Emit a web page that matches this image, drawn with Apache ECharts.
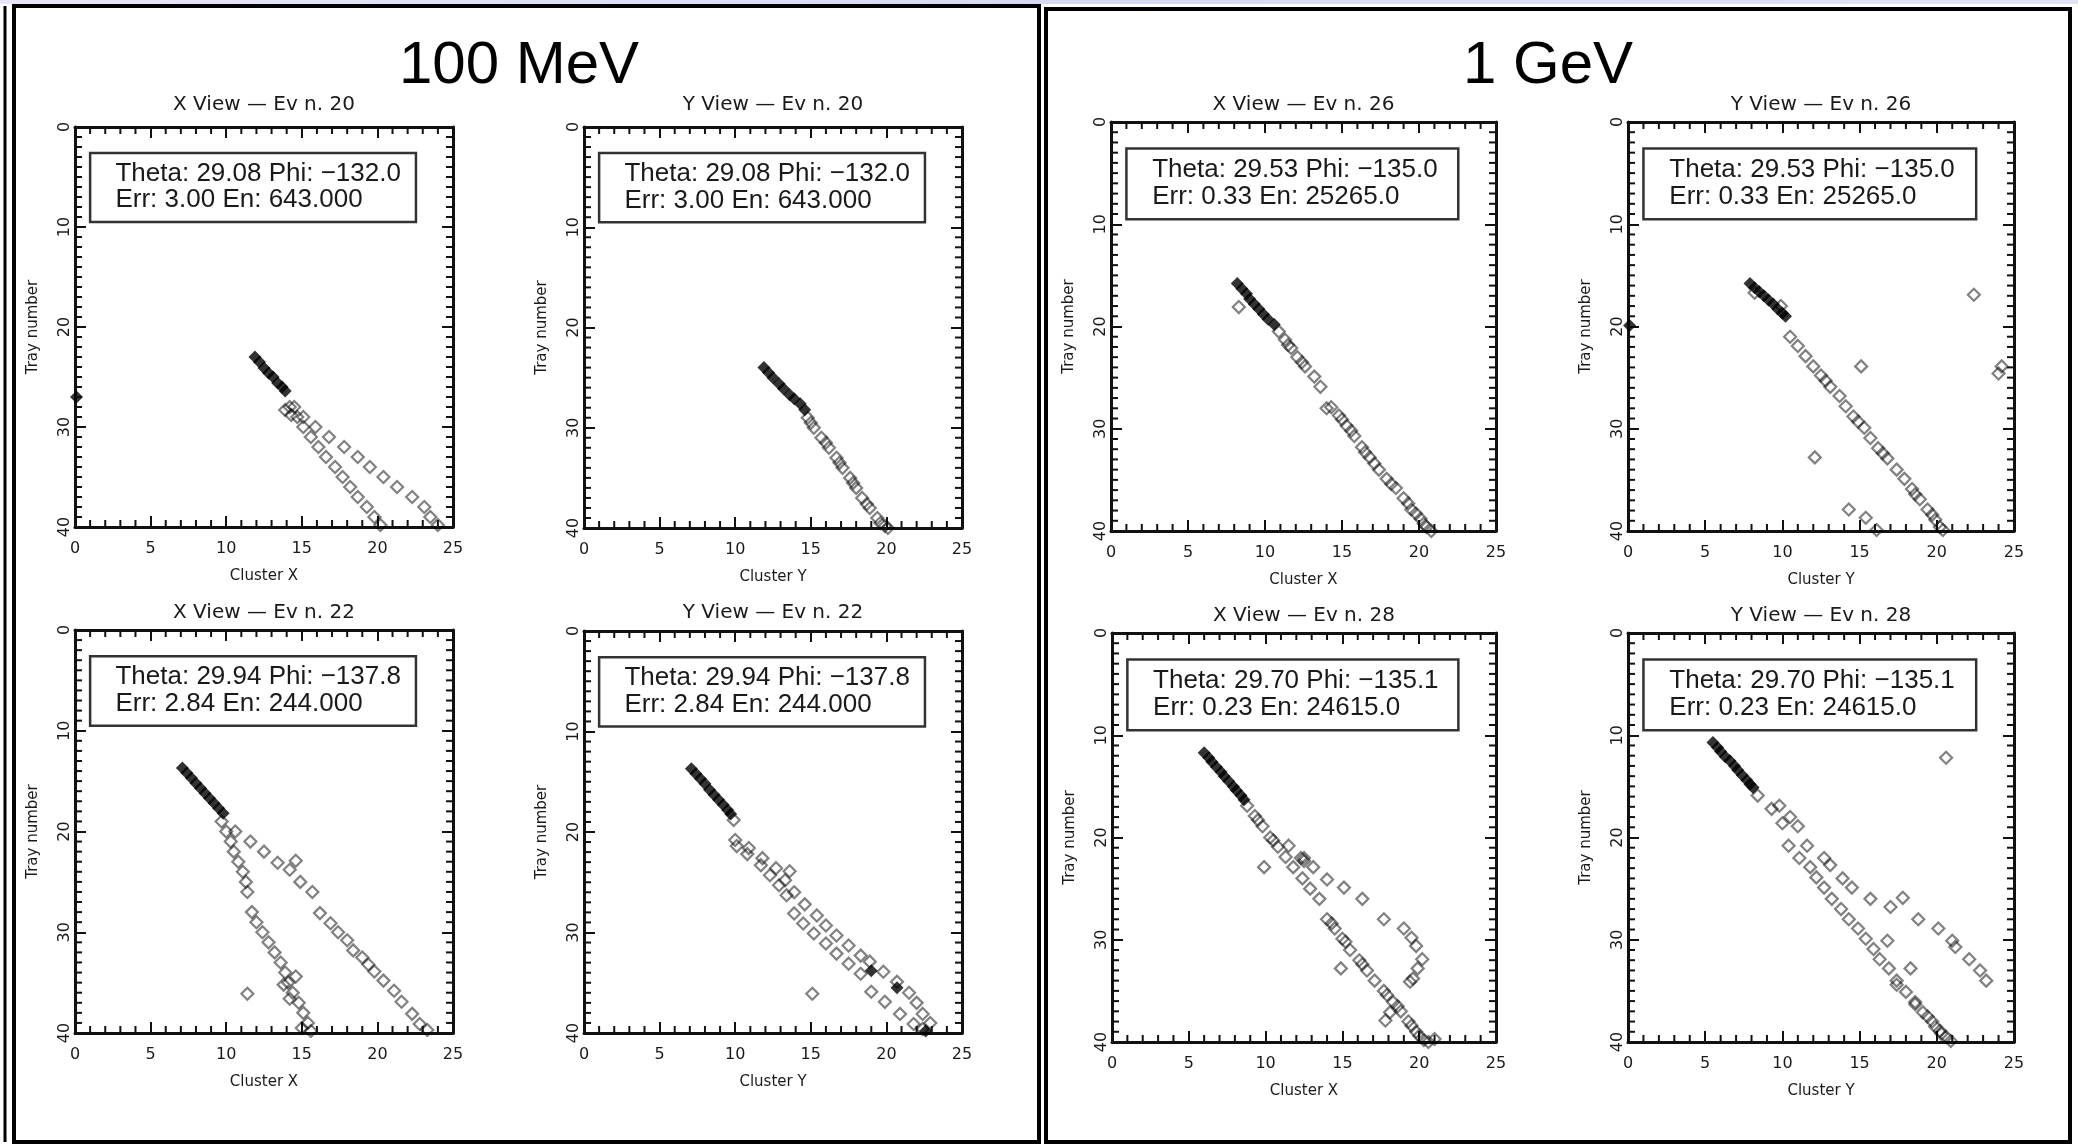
<!DOCTYPE html>
<html>
<head>
<meta charset="utf-8">
<script src="https://cdn.jsdelivr.net/npm/echarts@6/dist/echarts.min.js"></script>
<style>
  html, body { margin: 0; padding: 0; background: #ffffff; }
  #chart { width: 2078px; height: 1145px; }
</style>
</head>
<body>
<div id="chart"></div>
<script>
// ---- tick labels and minor tick positions ----
const xTicks = [0, 5, 10, 15, 20, 25];
const yTicks = [0, 10, 20, 30, 40];
const xMinorTicks = [1, 2, 3, 4, 6, 7, 8, 9, 11, 12, 13, 14, 16, 17, 18, 19, 21, 22, 23, 24];
const yMinorTicks = [1, 2, 3, 4, 5, 6, 7, 8, 9, 11, 12, 13, 14, 15, 16, 17, 18, 19,
                     21, 22, 23, 24, 25, 26, 27, 28, 29, 31, 32, 33, 34, 35, 36, 37, 38, 39];

// ---- group headings and panel titles ----
const groupTitles = ['100 MeV', '1 GeV'];
const panelTitles = [
  'X View \u2014 Ev n. 20', 'Y View \u2014 Ev n. 20',
  'X View \u2014 Ev n. 26', 'Y View \u2014 Ev n. 26',
  'X View \u2014 Ev n. 22', 'Y View \u2014 Ev n. 22',
  'X View \u2014 Ev n. 28', 'Y View \u2014 Ev n. 28'
];

// ---- reconstruction summaries shown in each panel ----
const infoEv20 = ['Theta: 29.08 Phi: \u2212132.0', 'Err: 3.00 En: 643.000'];
const infoEv26 = ['Theta: 29.53 Phi: \u2212135.0', 'Err: 0.33 En: 25265.0'];
const infoEv22 = ['Theta: 29.94 Phi: \u2212137.8', 'Err: 2.84 En: 244.000'];
const infoEv28 = ['Theta: 29.70 Phi: \u2212135.1', 'Err: 0.23 En: 24615.0'];

// ---- clusters: [cluster position, tray number] ----
// filled = clusters used for the track fit, hollow = all other clusters

// 100 MeV, event 20
const ev20xFilled = [[11.9,23.0],[12.2,23.5],[12.5,24.1],[12.8,24.6],[13.1,25.0],[13.4,25.6],[13.7,26.0],[13.9,26.4],[0.1,27.0]];
const ev20xHollow = [
  [13.9,28.3],[14.3,28.8],
  [14.2,28],[14.7,29],[15.1,30],[15.6,31],[16.1,32],[16.6,33],[17.2,34],[17.7,35],[18.2,36],[18.7,37],[19.3,38],[19.8,39],[20.2,39.8],
  [14.5,28],[15.1,29],[15.9,30],[16.8,31],[17.8,32],[18.7,33],[19.5,34],[20.4,35],[21.3,36],[22.3,37],[23.1,38],[23.5,39],[24.0,39.8]
];
const ev20yFilled = [[11.9,24.0],[12.2,24.5],[12.5,25.0],[12.9,25.6],[13.2,26.1],[13.6,26.7],[13.9,27.1],[14.3,27.6],[14.6,28.2]];
const ev20yHollow = [
  [14.8,29],[15.2,30],[15.7,31],[16.2,32],[16.7,33],[17.1,34],[17.6,35],[18.0,36],[18.4,37],[18.9,38],[19.4,39],[19.9,39.8],
  [15.0,29.5],[16.0,31.5],[16.9,33.5],[17.8,35.5],[18.7,37.6],[19.6,39.5],[20.1,40]
];

// 1 GeV, event 26
const ev26xFilled = [[8.2,15.8],[8.5,16.3],[8.8,16.8],[9.0,17.3],[9.3,17.8],[9.6,18.3],[9.9,18.8],[10.2,19.3],[10.6,19.8]];
const ev26xHollow = [
  [8.3,18.1],
  [10.9,20.5],[11.3,21.3],[11.7,22.1],[12.1,23.0],[12.6,23.9],[13.2,24.9],[13.6,25.9],[14.3,27.9],[14.8,28.7],[15.3,29.7],
  [15.8,30.7],[16.3,31.8],[16.8,32.8],[17.4,34.0],[17.9,34.9],[18.5,35.8],[19.0,36.8],[19.5,37.9],[20.1,38.8],[20.5,39.6],
  [11.5,21.8],[12.4,23.5],[14.0,28.0],[15.0,29.1],[15.6,30.2],[16.5,32.3],[17.1,33.4],[18.2,35.4],[19.3,37.3],[19.8,38.3],[20.3,39.3],[20.8,40.0]
];
const ev26yFilled = [[7.9,15.8],[8.2,16.2],[8.5,16.6],[8.8,17.0],[9.1,17.4],[9.4,17.8],[9.7,18.3],[10.0,18.7],[10.2,19.0],[0.1,19.9]];
const ev26yHollow = [
  [8.2,16.7],[9.9,18.0],
  [10.5,21.0],[11.0,21.9],[11.5,22.9],[12.0,23.9],[12.5,24.8],[13.1,25.9],[13.7,26.8],[14.1,27.8],[14.6,28.8],[15.3,29.9],
  [15.7,30.9],[16.2,31.9],[16.8,32.9],[17.4,34.0],[17.9,34.9],[18.4,35.9],[18.9,36.9],[19.4,37.9],[19.9,38.9],[20.2,39.6],
  [12.8,25.3],[14.9,29.3],[16.5,32.4],[18.6,36.4],[19.7,38.4],[20.4,39.9],
  [22.4,16.9],[15.1,23.9],[12.1,32.8],[14.3,37.9],[15.4,38.7],[24.0,24.6],[24.2,23.9],[16.1,39.9]
];

// 100 MeV, event 22
const ev22xFilled = [[7.1,13.7],[7.4,14.2],[7.7,14.7],[8.0,15.2],[8.3,15.7],[8.6,16.2],[8.9,16.7],[9.2,17.2],[9.5,17.7],[9.8,18.2]];
const ev22xHollow = [
  [9.7,19.0],[10.0,20.0],[10.3,21.0],[10.5,22.0],[10.8,23.0],[11.1,24.0],[11.3,25.0],[11.4,26.0],[11.7,28.0],[12.0,29.0],
  [12.4,30.0],[12.8,31.0],[13.2,32.0],[13.6,33.0],[13.9,34.0],[14.1,35.0],[14.4,36.0],[14.8,37.0],[15.1,38.0],[15.4,39.0],[15.6,39.8],
  [13.8,35.2],[14.6,34.4],[14.2,36.6],[15.0,39.5],
  [10.6,20.0],[11.6,21.0],[12.5,22.0],[13.4,23.1],[14.2,23.8],[14.9,25.0],[15.7,26.0],[16.2,28.1],[16.9,29.1],[17.4,30.0],
  [18.0,30.8],[18.4,31.8],[19.0,32.5],[19.4,33.2],[19.8,33.9],[20.4,34.8],[21.1,35.8],[21.6,36.9],[22.3,38.1],[22.8,39.1],[23.3,39.7],
  [14.6,22.9],[11.4,36.1]
];
const ev22yFilled = [[7.1,13.7],[7.4,14.2],[7.7,14.7],[8.0,15.2],[8.3,15.8],[8.6,16.3],[8.9,16.8],[9.2,17.3],[9.5,17.8],[9.7,18.2],[19.0,33.8],[20.7,35.5],[22.6,39.8]];
const ev22yHollow = [
  [9.9,18.8],
  [10.0,20.8],[10.9,21.6],[11.8,22.6],[12.7,23.6],[13.3,24.8],[13.9,26.0],[14.6,27.2],[15.4,28.3],[16.0,29.3],[16.7,30.3],
  [17.5,31.3],[18.3,32.3],[18.9,32.9],[19.8,33.9],[20.7,34.9],[21.5,36.0],[22.0,37.0],[22.4,38.1],[22.9,39.0],
  [10.1,21.4],[10.8,22.2],[11.7,23.3],[12.3,24.3],[12.9,25.3],[13.4,26.3],[13.9,28.1],[14.5,29.1],[15.2,30.1],[16.0,31.1],
  [16.7,32.1],[17.5,33.1],[18.3,34.1],[19.0,35.9],[19.9,36.9],[20.9,38.1],[21.8,39.1],[22.4,39.6],
  [13.6,23.9],[15.1,36.1]
];

// 1 GeV, event 28
const ev28xFilled = [[6.0,11.7],[6.3,12.2],[6.5,12.6],[6.8,13.1],[7.1,13.6],[7.3,14.0],[7.6,14.5],[7.9,15.0],[8.1,15.4],[8.4,15.9],[8.6,16.3]];
const ev28xHollow = [
  [8.8,16.9],[9.3,17.9],[9.8,18.9],[10.3,20.0],[10.8,20.9],[11.3,21.9],[11.8,22.9],[12.4,24.0],[12.9,25.0],[13.5,26.0],
  [14.0,28.0],[14.5,28.9],[15.0,29.9],[15.5,31.0],[16.1,32.0],[16.6,33.0],[17.1,34.0],[17.7,35.0],[18.3,36.1],[18.8,37.0],
  [19.3,38.0],[19.8,39.0],[20.3,39.8],
  [9.5,18.3],[10.5,20.3],[12.5,22.3],[12.3,22.0],[14.3,28.4],[15.2,30.2],[16.3,32.4],[17.9,35.4],[18.6,36.5],[19.5,38.4],
  [20.0,39.4],[20.6,40.0],[21.0,39.7],
  [11.5,20.8],[12.5,22.0],[13.1,22.9],[14.0,24.1],[15.1,24.9],[16.3,26.0],[17.7,28.0],[19.0,28.9],[19.5,29.8],[19.8,30.6],
  [20.2,31.9],[19.9,32.8],[19.6,33.8],[19.4,34.1],
  [9.9,22.9],[14.9,32.8],[17.8,37.9],[18.1,37.1]
];
const ev28yFilled = [[5.5,10.7],[5.8,11.2],[6.0,11.6],[6.3,12.1],[6.6,12.5],[6.9,13.0],[7.1,13.4],[7.4,13.9],[7.7,14.4],[7.9,14.8],[8.1,15.1]];
const ev28yHollow = [
  [20.6,12.2],
  [8.4,15.9],[9.3,17.2],[10.0,18.6],[10.4,20.8],[11.1,22.0],[11.8,22.9],[12.2,23.9],[12.7,24.9],[13.2,26.0],[13.8,27.0],
  [14.3,28.0],[14.9,28.9],[15.4,29.9],[15.9,30.9],[16.3,31.9],[16.9,32.8],[17.4,34.0],[18.0,35.1],[18.6,36.1],[19.1,37.1],
  [19.7,38.0],[20.2,38.9],[20.6,39.5],[20.9,39.9],
  [9.8,16.9],[10.5,18.0],[11.0,18.9],[11.6,20.8],[12.7,22.0],[13.1,22.7],[13.9,24.0],[14.5,24.9],[15.7,26.0],[17.0,26.8],
  [17.8,25.9],[18.8,28.0],[20.1,28.9],[21.0,30.1],[21.2,30.7],[22.1,31.9],[22.8,33.0],[23.2,34.0],
  [16.8,30.1],[18.3,32.8],
  [17.4,34.4],[18.6,36.3],[19.4,37.5],[19.9,38.5],[20.3,39.2]
];

// ---- panel layout: plot-area pixel boxes and title heights ----
const panels = [
  { box: [75, 127, 378, 400],   titleY: 105, title: panelTitles[0], xName: 'Cluster X', filled: ev20xFilled, hollow: ev20xHollow, info: infoEv20 },
  { box: [584, 127, 378, 401],  titleY: 105, title: panelTitles[1], xName: 'Cluster Y', filled: ev20yFilled, hollow: ev20yHollow, info: infoEv20 },
  { box: [1111, 122, 385, 409], titleY: 105, title: panelTitles[2], xName: 'Cluster X', filled: ev26xFilled, hollow: ev26xHollow, info: infoEv26 },
  { box: [1628, 122, 386, 409], titleY: 105, title: panelTitles[3], xName: 'Cluster Y', filled: ev26yFilled, hollow: ev26yHollow, info: infoEv26 },
  { box: [75, 630, 378, 403],   titleY: 613, title: panelTitles[4], xName: 'Cluster X', filled: ev22xFilled, hollow: ev22xHollow, info: infoEv22 },
  { box: [584, 631, 378, 402],  titleY: 613, title: panelTitles[5], xName: 'Cluster Y', filled: ev22yFilled, hollow: ev22yHollow, info: infoEv22 },
  { box: [1112, 633, 384, 409], titleY: 616, title: panelTitles[6], xName: 'Cluster X', filled: ev28xFilled, hollow: ev28xHollow, info: infoEv28 },
  { box: [1628, 633, 386, 409], titleY: 616, title: panelTitles[7], xName: 'Cluster Y', filled: ev28yFilled, hollow: ev28yHollow, info: infoEv28 }
];

const INK = '#111111';
const AXIS_FONT = 'DejaVu Sans';
const BOX_FONT = 'Liberation Sans';
const X_MIN = xTicks[0], X_MAX = xTicks[xTicks.length - 1];
const Y_MIN = yTicks[0], Y_MAX = yTicks[yTicks.length - 1];
const MINOR_LEN = 7;

// major axes: frame line, long inward ticks
function frameAxis(extra) {
  return Object.assign({
    type: 'value',
    axisLine: { show: true, onZero: false, lineStyle: { color: INK, width: 3 } },
    axisTick: { show: true, inside: true, length: 11, lineStyle: { color: INK, width: 2 } },
    splitLine: { show: false },
    axisLabel: { show: false }
  }, extra);
}

// minor ticks on all four sides, placed through the panel's own axes
const minorTickData = xMinorTicks.map(v => [v, 0]).concat(yMinorTicks.map(v => [v, 1]));
function renderMinorTick(params, api) {
  const v = api.value(0);
  const onX = api.value(1) === 0;
  const st = { stroke: INK, lineWidth: 2 };
  if (onX) {
    const a = api.coord([v, Y_MIN]);
    const b = api.coord([v, Y_MAX]);
    return { type: 'group', children: [
      { type: 'line', shape: { x1: a[0], y1: a[1], x2: a[0], y2: a[1] + MINOR_LEN }, style: st },
      { type: 'line', shape: { x1: b[0], y1: b[1], x2: b[0], y2: b[1] - MINOR_LEN }, style: st }
    ] };
  }
  const a = api.coord([X_MIN, v]);
  const b = api.coord([X_MAX, v]);
  return { type: 'group', children: [
    { type: 'line', shape: { x1: a[0], y1: a[1], x2: a[0] + MINOR_LEN, y2: a[1] }, style: st },
    { type: 'line', shape: { x1: b[0], y1: b[1], x2: b[0] - MINOR_LEN, y2: b[1] }, style: st }
  ] };
}

const grid = [], xAxis = [], yAxis = [], series = [], graphic = [];

panels.forEach((p, i) => {
  const [left, top, width, height] = p.box;
  grid.push({ left, top, width, height, containLabel: false, outerBoundsMode: 'none' });

  const xRange = { gridIndex: i, min: X_MIN, max: X_MAX, interval: 5 };
  const yRange = { gridIndex: i, min: Y_MIN, max: Y_MAX, interval: 10, inverse: true };

  xAxis.push(frameAxis({
    ...xRange, position: 'bottom',
    axisLabel: { show: true, margin: 14, fontSize: 16, fontFamily: AXIS_FONT, color: '#1a1a1a',
      formatter: v => (xTicks.includes(v) ? String(v) : '') },
    name: p.xName, nameLocation: 'middle', nameGap: 42,
    nameTextStyle: { fontSize: 15, fontFamily: AXIS_FONT, color: '#1a1a1a' }
  }));
  xAxis.push(frameAxis({ ...xRange, position: 'top' }));

  yAxis.push(frameAxis({
    ...yRange, position: 'left',
    axisLabel: { show: true, margin: 2, rotate: 90, fontSize: 16, fontFamily: AXIS_FONT, color: '#1a1a1a',
      formatter: v => (yTicks.includes(v) ? String(v) : '') },
    name: 'Tray number', nameLocation: 'middle', nameGap: 34, nameRotate: 90,
    nameTextStyle: { fontSize: 15, fontFamily: AXIS_FONT, color: '#1a1a1a' }
  }));
  yAxis.push(frameAxis({ ...yRange, position: 'right' }));

  const xi = 2 * i, yi = 2 * i;
  series.push({
    type: 'custom', xAxisIndex: xi, yAxisIndex: yi, data: minorTickData,
    renderItem: renderMinorTick, silent: true, clip: false, z: 3
  });
  series.push({
    type: 'scatter', xAxisIndex: xi, yAxisIndex: yi, data: p.hollow,
    symbol: 'diamond', symbolSize: 12, silent: true,
    itemStyle: { color: 'rgba(255,255,255,0)', borderColor: 'rgba(0,0,0,0.62)', borderWidth: 2.2 }
  });
  series.push({
    type: 'scatter', xAxisIndex: xi, yAxisIndex: yi, data: p.filled,
    symbol: 'diamond', symbolSize: 13, silent: true,
    itemStyle: { color: '#000000' }
  });

  // panel title above the plot
  graphic.push({
    type: 'text', x: left + width / 2, y: p.titleY, silent: true,
    style: { text: p.title, fontSize: 20, fontFamily: AXIS_FONT, fill: '#1a1a1a', align: 'center', verticalAlign: 'middle' }
  });
  // fit summary box
  graphic.push({
    type: 'rect', silent: true,
    shape: { x: left + 0.04 * width, y: top + 0.065 * height, width: 0.862 * width, height: 0.1725 * height },
    style: { fill: 'rgba(255,255,255,0)', stroke: '#333', lineWidth: 2.5 }
  });
  p.info.forEach((line, k) => {
    graphic.push({
      type: 'text', silent: true, x: left + 0.107 * width, y: top + (k === 0 ? 0.117 : 0.183) * height,
      style: { text: line, fontSize: 26, fontFamily: BOX_FONT, fill: '#1a1a1a', align: 'left', verticalAlign: 'middle' }
    });
  });
});

// faint banner along the top edge
graphic.push({ type: 'rect', silent: true, shape: { x: 0, y: 0, width: 2078, height: 4 },
  style: { fill: new echarts.graphic.LinearGradient(0, 0, 1, 0, [
    { offset: 0, color: '#e6e6f6' }, { offset: 0.5, color: '#d8d8f2' }, { offset: 1, color: '#e2e2f6' }]) } });
// outer frames around each energy group
graphic.push({ type: 'line', silent: true, shape: { x1: 5, y1: 6, x2: 5, y2: 1142 }, style: { stroke: '#000', lineWidth: 3 } });
graphic.push({ type: 'rect', silent: true, shape: { x: 14, y: 6, width: 1025, height: 1136 },
  style: { fill: 'rgba(0,0,0,0)', stroke: '#000', lineWidth: 4 } });
graphic.push({ type: 'rect', silent: true, shape: { x: 1046, y: 9, width: 1024, height: 1133 },
  style: { fill: 'rgba(0,0,0,0)', stroke: '#000', lineWidth: 4 } });

// group headings
graphic.push({ type: 'text', silent: true, x: 519, y: 66,
  style: { text: groupTitles[0], fontSize: 60, fontFamily: BOX_FONT, fill: '#000', align: 'center', verticalAlign: 'middle' } });
graphic.push({ type: 'text', silent: true, x: 1548, y: 66,
  style: { text: groupTitles[1], fontSize: 60, fontFamily: BOX_FONT, fill: '#000', align: 'center', verticalAlign: 'middle' } });

const chart = echarts.init(document.getElementById('chart'), null, { renderer: 'canvas', width: 2078, height: 1145 });
chart.setOption({
  animation: false,
  backgroundColor: '#ffffff',
  grid, xAxis, yAxis, series, graphic
});
</script>
</body>
</html>
